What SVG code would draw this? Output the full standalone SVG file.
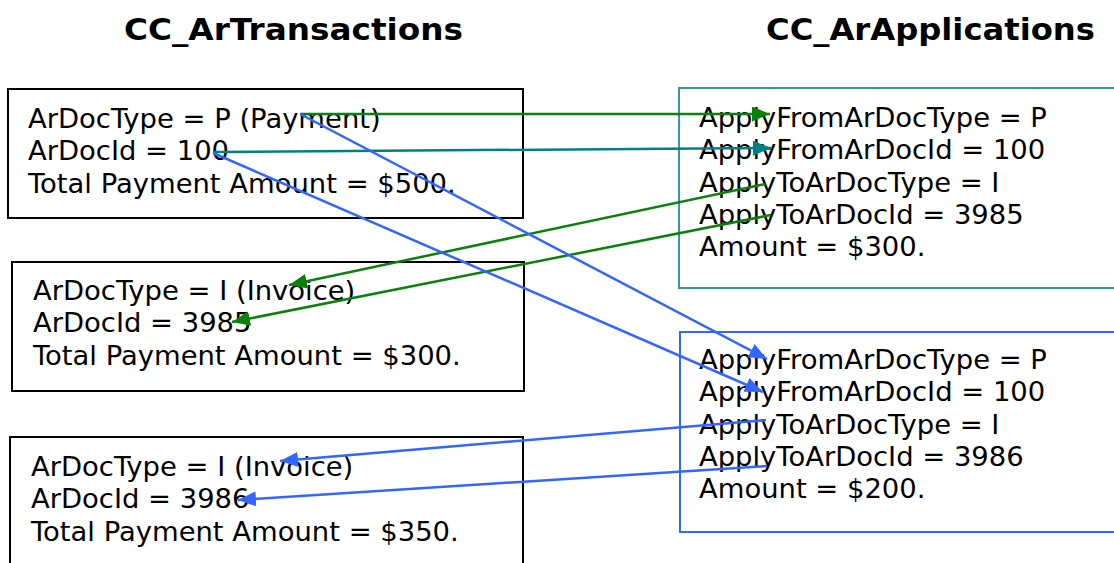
<svg xmlns="http://www.w3.org/2000/svg" width="1114" height="563" viewBox="0 0 1114 563">
  <style>
    .title { font-family: "DejaVu Sans", Verdana, sans-serif; font-weight: bold; font-size: 30px; fill: #000; }
    .field { font-family: "DejaVu Sans", Verdana, sans-serif; font-size: 27.4px; fill: #000; }
    .box-tx { fill: #fff; stroke: #000; stroke-width: 2; }
    .box-app1 { fill: #fff; stroke: #339999; stroke-width: 2; }
    .box-app2 { fill: #fff; stroke: #3366ff; stroke-width: 2; }
    .link { fill: none; stroke-width: 2.5; }
    .green { stroke: #0a820a; }
    .teal { stroke: #008080; }
    .blue { stroke: #3366ff; }
  </style>
  <defs>
    <marker id="ah-green" markerUnits="userSpaceOnUse" markerWidth="20" markerHeight="16" refX="18" refY="7.5" orient="auto">
      <path d="M0,0 L18,7.5 L0,15 z" fill="#0a820a"/>
    </marker>
    <marker id="ah-teal" markerUnits="userSpaceOnUse" markerWidth="20" markerHeight="16" refX="18" refY="7.5" orient="auto">
      <path d="M0,0 L18,7.5 L0,15 z" fill="#008080"/>
    </marker>
    <marker id="ah-blue" markerUnits="userSpaceOnUse" markerWidth="20" markerHeight="16" refX="18" refY="7.5" orient="auto">
      <path d="M0,0 L18,7.5 L0,15 z" fill="#3366ff"/>
    </marker>
  </defs>

  <rect width="1114" height="563" fill="#fff"/>

  <!-- table headings -->
  <text class="title" x="124" y="40" textLength="339" lengthAdjust="spacingAndGlyphs">CC_ArTransactions</text>
  <text class="title" x="766" y="40" textLength="329" lengthAdjust="spacingAndGlyphs">CC_ArApplications</text>

  <!-- CC_ArTransactions rows -->
  <g id="tx-payment">
    <rect class="box-tx" x="8" y="89" width="515" height="129"/>
    <text class="field" x="28" y="127.5">ArDocType = P (Payment)</text>
    <text class="field" x="28" y="160">ArDocId = 100</text>
    <text class="field" x="28" y="192.5">Total Payment Amount = $500.</text>
  </g>

  <g id="tx-invoice-3985">
    <rect class="box-tx" x="12" y="262" width="512" height="129"/>
    <text class="field" x="33" y="299.5">ArDocType = I (Invoice)</text>
    <text class="field" x="33" y="332">ArDocId = 3985</text>
    <text class="field" x="33" y="364.5">Total Payment Amount = $300.</text>
  </g>

  <g id="tx-invoice-3986">
    <rect class="box-tx" x="10" y="437" width="513" height="140"/>
    <text class="field" x="31" y="475.5">ArDocType = I (Invoice)</text>
    <text class="field" x="31" y="508">ArDocId = 3986</text>
    <text class="field" x="31" y="540.5">Total Payment Amount = $350.</text>
  </g>

  <!-- CC_ArApplications rows -->
  <g id="app-3985">
    <rect class="box-app1" x="679" y="88" width="450" height="200"/>
    <text class="field" x="699" y="126.5">ApplyFromArDocType = P</text>
    <text class="field" x="699" y="159">ApplyFromArDocId = 100</text>
    <text class="field" x="699" y="191.5">ApplyToArDocType = I</text>
    <text class="field" x="699" y="223.5">ApplyToArDocId = 3985</text>
    <text class="field" x="699" y="256">Amount = $300.</text>
  </g>

  <g id="app-3986">
    <rect class="box-app2" x="680" y="332" width="450" height="200"/>
    <text class="field" x="699" y="368.5">ApplyFromArDocType = P</text>
    <text class="field" x="699" y="401">ApplyFromArDocId = 100</text>
    <text class="field" x="699" y="433.5">ApplyToArDocType = I</text>
    <text class="field" x="699" y="465.5">ApplyToArDocId = 3986</text>
    <text class="field" x="699" y="498">Amount = $200.</text>
  </g>

  <!-- field-to-field links -->
  <g id="connectors">
    <line class="link green" x1="300" y1="114" x2="770" y2="114" marker-end="url(#ah-green)"/>
    <line class="link teal" x1="213" y1="152" x2="771" y2="148" marker-end="url(#ah-teal)"/>
    <line class="link green" x1="765" y1="184" x2="289" y2="285" marker-end="url(#ah-green)"/>
    <line class="link green" x1="771" y1="215" x2="232" y2="322" marker-end="url(#ah-green)"/>
    <line class="link blue" x1="300" y1="114" x2="767" y2="359" marker-end="url(#ah-blue)"/>
    <line class="link blue" x1="213" y1="153" x2="763" y2="392" marker-end="url(#ah-blue)"/>
    <line class="link blue" x1="766" y1="420" x2="280" y2="461" marker-end="url(#ah-blue)"/>
    <line class="link blue" x1="767" y1="466" x2="238" y2="500" marker-end="url(#ah-blue)"/>
  </g>
</svg>
